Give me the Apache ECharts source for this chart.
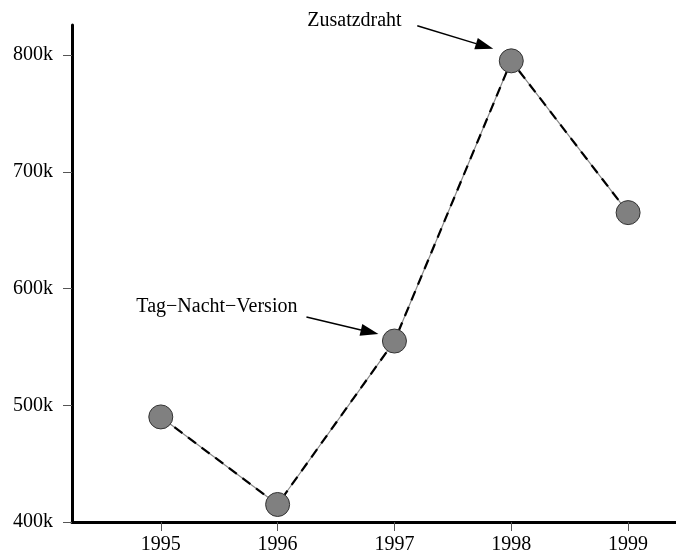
<!DOCTYPE html>
<html>
<head>
<meta charset="utf-8">
<script src="https://cdn.jsdelivr.net/npm/echarts@6/dist/echarts.min.js"></script>
<style>html,body{margin:0;padding:0;background:#fff;}#c{width:676px;height:555px;}</style>
</head>
<body>
<div id="c"></div>
<script>
const years = [1995, 1996, 1997, 1998, 1999];
const values = [490000, 415000, 555000, 795000, 665000];
const yTicks = [400000, 500000, 600000, 700000, 800000];
const xTicks = [1995, 1996, 1997, 1998, 1999];
const annotationLabels = ['Tag\u2212Nacht\u2212Version', 'Zusatzdraht'];
const annotationYears = [1997, 1998];

const FONT = 'Liberation Serif';
const FS = 20;
const chart = echarts.init(document.getElementById('c'), null, {renderer: 'canvas'});
const pts = years.map((y, i) => [y, values[i]]);

chart.setOption({
  animation: false,
  backgroundColor: '#fff',
  grid: {left: 72, right: 0, top: 25, bottom: 32, containLabel: false},
  xAxis: {
    type: 'value', min: 1994.24, max: 1999.41,
    axisLine: {show: true, lineStyle: {color: '#000', width: 3}},
    axisTick: {show: true, customValues: xTicks, length: 9, lineStyle: {color: '#555', width: 1}},
    axisLabel: {customValues: xTicks, color: '#000', fontFamily: FONT, fontSize: FS, margin: 13, formatter: v => String(v)},
    splitLine: {show: false}
  },
  yAxis: {
    type: 'value', min: 400000, max: 825700,
    axisLine: {show: true, onZero: false, lineStyle: {color: '#000', width: 3}},
    axisTick: {show: true, customValues: yTicks, length: 9, lineStyle: {color: '#555', width: 1}},
    axisLabel: {customValues: yTicks, color: '#000', fontFamily: FONT, fontSize: FS, margin: 19, formatter: v => (v / 1000) + 'k'},
    splitLine: {show: false}
  },
  series: [
    {
      type: 'line', data: pts, symbol: 'none', z: 2,
      lineStyle: {color: '#888', width: 1.2}
    },
    {
      type: 'line', data: pts, symbol: 'circle', symbolSize: 24, z: 3,
      lineStyle: {color: '#000', width: 2.2, type: [10, 7]},
      itemStyle: {color: '#808080', borderColor: '#333', borderWidth: 1}
    }
  ]
});

function arrow(x1, y1, x2, y2) {
  const ang = Math.atan2(y2 - y1, x2 - x1);
  const L = 18, W = 6;
  const bx = x2 - L * Math.cos(ang), by = y2 - L * Math.sin(ang);
  const px = -Math.sin(ang) * W, py = Math.cos(ang) * W;
  return [
    {type: 'line', shape: {x1: x1, y1: y1, x2: bx, y2: by}, style: {stroke: '#000', lineWidth: 1.5}, z: 10},
    {type: 'polygon', shape: {points: [[x2, y2], [bx + px, by + py], [bx - px, by - py]]}, style: {fill: '#000'}, z: 10}
  ];
}

const p1 = chart.convertToPixel({gridIndex: 0}, [annotationYears[0], values[years.indexOf(annotationYears[0])]]);
const p2 = chart.convertToPixel({gridIndex: 0}, [annotationYears[1], values[years.indexOf(annotationYears[1])]]);
const g = [];
g.push({type: 'text', x: p1[0] - 97, y: p1[1] - 34, style: {text: annotationLabels[0], font: FS + 'px "' + FONT + '"', fill: '#000', align: 'right', verticalAlign: 'middle'}, z: 10});
g.push(...arrow(p1[0] - 88, p1[1] - 24, p1[0] - 16, p1[1] - 7));
g.push({type: 'text', x: p2[0] - 204, y: p2[1] - 40, style: {text: annotationLabels[1], font: FS + 'px "' + FONT + '"', fill: '#000', align: 'left', verticalAlign: 'middle'}, z: 10});
g.push(...arrow(p2[0] - 94, p2[1] - 35, p2[0] - 18, p2[1] - 12));
chart.setOption({graphic: g});
</script>
</body>
</html>
